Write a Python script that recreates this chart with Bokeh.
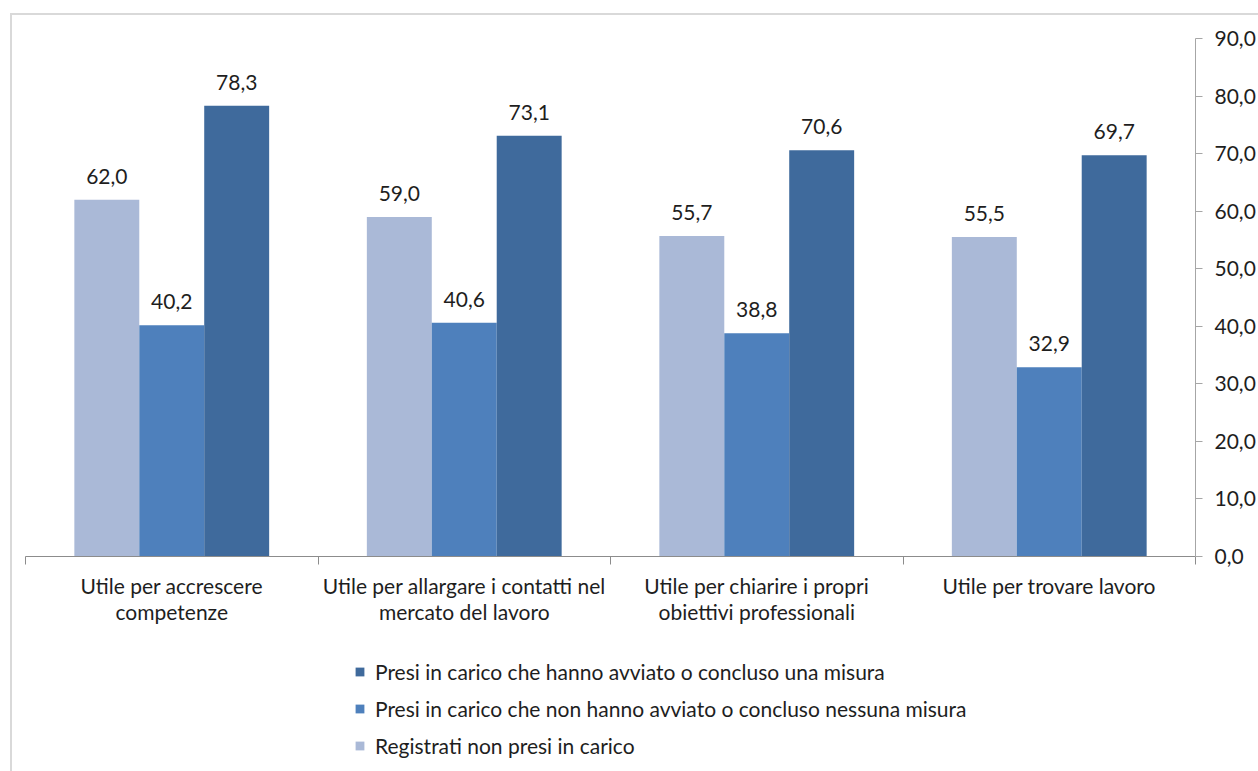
from bokeh.plotting import figure
from bokeh.layouts import column
from bokeh.models import (Range1d, FixedTicker, Legend, LegendItem,
                          ColumnDataSource, LabelSet)
from bokeh.core.properties import value
from bokeh.embed import file_html
from bokeh.resources import INLINE

categories = [
    "Utile per accrescere\ncompetenze",
    "Utile per allargare i contatti nel\nmercato del lavoro",
    "Utile per chiarire i propri\nobiettivi professionali",
    "Utile per trovare lavoro",
]
series_names = [
    "Registrati non presi in carico",
    "Presi in carico che non hanno avviato o concluso nessuna misura",
    "Presi in carico che hanno avviato o concluso una misura",
]
registrati = [62.0, 59.0, 55.7, 55.5]
nessuna_misura = [40.2, 40.6, 38.8, 32.9]
una_misura = [78.3, 73.1, 70.6, 69.7]
y_ticks = [0, 10, 20, 30, 40, 50, 60, 70, 80, 90]

colors = ["#AAB9D7", "#4E80BC", "#3F6A9C"]
FONT = "Lato"
TXT = "#1e1e1e"
FS = "21px"

W = 1246
H1 = 621
H2 = 135

chart = figure(width=W, height=H1, output_backend="svg", toolbar_location=None,
               x_range=Range1d(0, 4), y_range=Range1d(0, 90),
               y_axis_location="right",
               min_border_left=13, min_border_right=62, min_border_top=23,
               min_border_bottom=80)
chart.outline_line_color = None
chart.grid.visible = False
chart.background_fill_color = "white"
chart.border_fill_color = "white"

bw = 0.222
offsets = [-bw, 0.0, bw]
series = [registrati, nessuna_misura, una_misura]
sources = []
for k, (vals, col) in enumerate(zip(series, colors)):
    xs = [i + 0.5 + offsets[k] for i in range(len(categories))]
    src = ColumnDataSource(dict(x=xs, top=vals,
                                lab=[f"{v:.1f}".replace(".", ",") for v in vals]))
    sources.append(src)
    chart.vbar(x="x", top="top", width=bw, bottom=0, source=src,
               fill_color=col, line_color=None)
    ls = LabelSet(x="x", y="top", text="lab", source=src, text_align="center",
                  text_baseline="alphabetic", y_offset=16,
                  text_font=value(FONT), text_font_size=value(FS),
                  text_color=TXT)
    chart.add_layout(ls)

# category axis
xa = chart.xaxis[0]
xa.ticker = FixedTicker(ticks=[i + 0.5 for i in range(len(categories))],
                        minor_ticks=list(range(len(categories) + 1)))
xa.major_label_overrides = {i + 0.5: c for i, c in enumerate(categories)}
xa.major_tick_out = 0
xa.major_tick_in = 0
xa.minor_tick_out = 8
xa.minor_tick_in = 0
xa.minor_tick_line_color = "#8c8c8c"
xa.axis_line_color = "#8c8c8c"
xa.axis_line_width = 1
xa.major_label_standoff = 8
xa.major_label_text_font = FONT
xa.major_label_text_font_size = FS
xa.major_label_text_color = TXT
xa.major_label_text_line_height = 1.05

# value axis (right)
ya = chart.yaxis[0]
ya.ticker = FixedTicker(ticks=y_ticks, minor_ticks=[])
ya.major_label_overrides = {t: f"{t:.1f}".replace(".", ",") for t in y_ticks}
ya.major_tick_out = 7
ya.major_tick_in = 0
ya.major_tick_line_color = "#a6a6a6"
ya.axis_line_color = "#a6a6a6"
ya.major_label_standoff = 12
ya.major_label_text_font = FONT
ya.major_label_text_font_size = FS
ya.major_label_text_color = TXT

# legend figure (bars kept out of view; only the legend shows)
leg = figure(width=W, height=H2, output_backend="svg", toolbar_location=None,
             x_range=Range1d(0, 4), y_range=Range1d(1000, 2000),
             x_axis_location=None, y_axis_location=None,
             min_border=0)
leg.outline_line_color = None
leg.grid.visible = False
leg_r = []
for k, (src, col) in enumerate(zip(sources, colors)):
    leg_r.append(leg.vbar(x="x", top="top", width=bw, bottom=0, source=src,
                          fill_color=col, line_color=None))

legend = Legend(items=[
    LegendItem(label=series_names[2], renderers=[leg_r[2]]),
    LegendItem(label=series_names[1], renderers=[leg_r[1]]),
    LegendItem(label=series_names[0], renderers=[leg_r[0]]),
], location=(329, 13), orientation="vertical")
legend.glyph_width = 11
legend.glyph_height = 11
legend.label_standoff = 10
legend.spacing = 12
legend.padding = 0
legend.margin = 0
legend.border_line_color = None
legend.background_fill_alpha = 0
legend.label_text_font = FONT
legend.label_text_font_size = FS
legend.label_text_color = TXT
legend.label_height = 25
leg.add_layout(legend, "center")

p = column(chart, leg, spacing=0)
p.styles = {"border-left": "2px solid #d9d9d9", "border-top": "2px solid #d9d9d9",
            "margin-left": "10px", "margin-top": "13px"}

open("out.html", "w").write(file_html(p, INLINE))
